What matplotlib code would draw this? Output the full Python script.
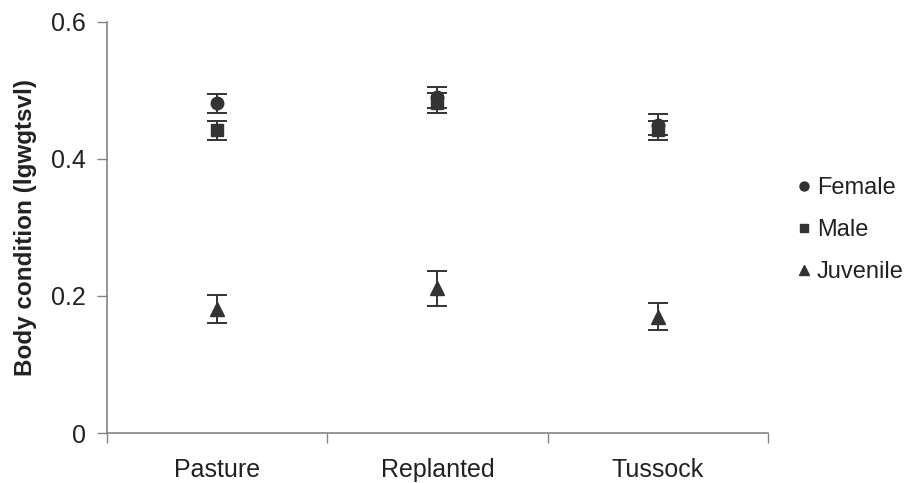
import matplotlib
matplotlib.use("Agg")
import matplotlib.pyplot as plt
from matplotlib.lines import Line2D
import numpy as np

plt.rcParams['font.family'] = ['Liberation Sans', 'DejaVu Sans']

habitats = ["Pasture", "Replanted", "Tussock"]

female_mean = [0.481, 0.490, 0.450]
female_se = [0.014, 0.015, 0.015]
male_mean = [0.442, 0.482, 0.442]
male_se = [0.014, 0.015, 0.014]
juvenile_mean = [0.181, 0.211, 0.170]
juvenile_se = [0.021, 0.025, 0.020]

yticks = [0, 0.2, 0.4, 0.6]
ytick_labels = ["0", "0.2", "0.4", "0.6"]

ink = "#333333"
txt = "#222222"
axis_col = "#858585"

fig = plt.figure(figsize=(9.08, 4.83), dpi=100)
ax = fig.add_axes([0.1178, 0.1035, 0.728, 0.851])

x = np.arange(len(habitats)) + 0.5
series = [
    ("Female", female_mean, female_se, "o", 9),
    ("Male", male_mean, male_se, "s", 8.5),
    ("Juvenile", juvenile_mean, juvenile_se, "^", 10),
]
handles = []
for name, m, e, mk, ms in series:
    ax.errorbar(x, m, yerr=e, fmt=mk, color=ink, ms=ms, mec=ink, mfc=ink,
                ecolor=ink, elinewidth=1.4, capsize=7, capthick=1.4,
                linestyle="none")
    handles.append(Line2D([], [], marker=mk, linestyle="none", color=ink,
                          mfc=ink, mec=ink, ms=ms * 0.72, label=name))

ax.set_xlim(0, 3)
ax.set_ylim(0, 0.6)
ax.set_yticks(yticks)
ax.set_yticklabels(ytick_labels)
ax.set_xticks([0, 1, 2, 3])
ax.set_xticklabels([])
ax.set_xticks(x, minor=True)
ax.set_xticklabels(habitats, minor=True)
ax.tick_params(axis="x", which="minor", length=0, pad=18, labelsize=18, labelcolor=txt)
ax.tick_params(axis="x", which="major", length=7, width=1, color=axis_col, direction="out")
ax.tick_params(axis="y", length=7, width=1, color=axis_col, direction="out",
               labelsize=18, labelcolor=txt, pad=8)

for s in ["top", "right"]:
    ax.spines[s].set_visible(False)
for s in ["left", "bottom"]:
    ax.spines[s].set_color(axis_col)
    ax.spines[s].set_linewidth(1.2)

ax.set_ylabel("Body condition (lgwgtsvl)", fontsize=17.5, fontweight="bold",
              color=txt, labelpad=10)

ax.legend(handles=handles, loc="center left", bbox_to_anchor=(1.032, 0.493),
          frameon=False, fontsize=17, handlelength=0.5, handletextpad=0.28,
          labelspacing=0.85, labelcolor=txt, borderaxespad=0)

fig.savefig("out.png", dpi=100)
